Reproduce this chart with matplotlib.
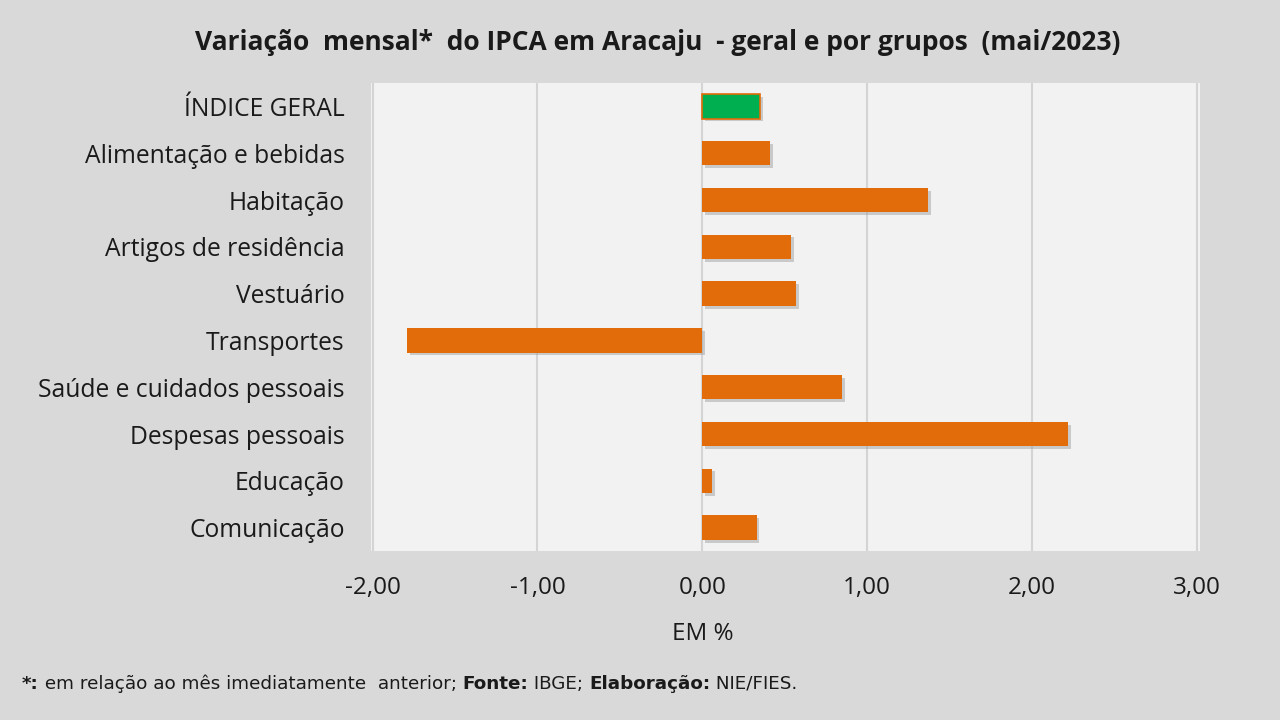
import matplotlib
matplotlib.use("Agg")
import matplotlib.pyplot as plt
import matplotlib.patheffects as pe

categories = ["ÍNDICE GERAL", "Alimentação e bebidas", "Habitação", "Artigos de residência",
              "Vestuário", "Transportes", "Saúde e cuidados pessoais", "Despesas pessoais",
              "Educação", "Comunicação"]
values = [0.35, 0.41, 1.37, 0.54, 0.57, -1.79, 0.85, 2.22, 0.06, 0.33]
xticks = [-2, -1, 0, 1, 2, 3]
xtick_labels = ["-2,00", "-1,00", "0,00", "1,00", "2,00", "3,00"]

plt.rcParams['font.family'] = ['Open Sans', 'DejaVu Sans']

fig = plt.figure(figsize=(12.8, 7.2), dpi=100)
fig.patch.set_facecolor('#d9d9d9')
ax = fig.add_axes([371/1280, 1-551/720, (1200-371)/1280, (551-83)/720])
ax.set_facecolor('#f2f2f2')

colors = ['#00b050'] + ['#e36c0a'] * (len(values) - 1)
ypos = list(range(len(categories)))
bars = ax.barh(ypos, values, height=0.52, color=colors, zorder=3,
               edgecolor=['#e36c0a'] + ['none'] * (len(values) - 1), linewidth=1.2)
for b in bars:
    b.set_path_effects([pe.SimplePatchShadow(offset=(2, -2), shadow_rgbFace='#999999', alpha=0.45), pe.Normal()])

ax.set_xlim(-2.01, 3.02)
ax.set_ylim(len(categories) - 0.5, -0.5)
ax.set_xticks(xticks)
ax.set_xticklabels(xtick_labels, fontsize=17.5, color='#1a1a1a')
ax.set_yticks(ypos)
ax.set_yticklabels(categories, fontsize=17.7, color='#1a1a1a')
ax.tick_params(axis='both', length=0)
ax.tick_params(axis='x', pad=18)
ax.tick_params(axis='y', pad=19)
ax.grid(axis='x', color='#d4d4d4', linewidth=1.5, zorder=0)
for s in ax.spines.values():
    s.set_visible(False)

fig.text(658/1280, 1-43/720, "Variação  mensal*  do IPCA em Aracaju  - geral e por grupos  (mai/2023)",
         ha='center', va='center', fontsize=19, fontweight='bold', color='#1a1a1a')
fig.text(703/1280, 1-634/720, "EM %", ha='center', va='center', fontsize=17.5, color='#1a1a1a')

foot_parts = [("*:", 'bold'), (" em relação ao mês imediatamente  anterior; ", 'normal'),
              ("Fonte:", 'bold'), (" IBGE; ", 'normal'), ("Elaboração:", 'bold'), (" NIE/FIES.", 'normal')]
renderer = fig.canvas.get_renderer()
x = 22 / 1280
for txt, w in foot_parts:
    t = fig.text(x, 1-684/720, txt, ha='left', va='center', fontsize=13.2, fontweight=w,
                 color='#1a1a1a', family=['Liberation Sans Narrow', 'DejaVu Sans'])
    bb = t.get_window_extent(renderer=renderer)
    x += bb.width / fig.bbox.width

fig.savefig("out.png", dpi=100, facecolor=fig.get_facecolor())
